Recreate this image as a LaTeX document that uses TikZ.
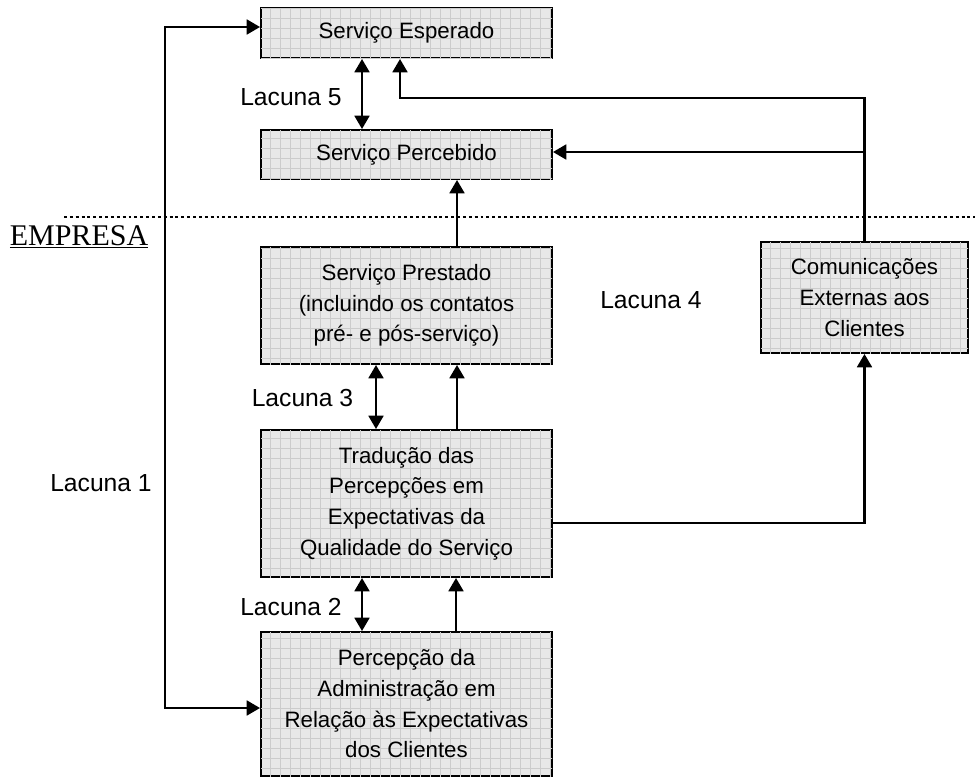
\documentclass[tikz,border=0pt]{standalone}
\usepackage{fontspec}
\setmainfont{Liberation Sans}
\newfontfamily\serifempresa{Liberation Serif}
\usetikzlibrary{arrows.meta,patterns.meta}

\begin{document}
\begin{tikzpicture}[
        x=0.75pt, y=-0.75pt,
        box/.style={draw, line width=1.4pt, fill=gray!18, align=center, inner sep=2pt,
            postaction={pattern={Hatch[angle=0, distance=7.5pt, line width=0.45pt]}, pattern color=gray!40},
            font=\fontsize{16.7}{23}\selectfont},
        gap/.style={font=\fontsize{18.5}{22}\selectfont},
        arr/.style={line width=2.1pt, -{Triangle[length=10pt, width=11pt]}},
        both/.style={line width=2.1pt, {Triangle[length=10pt, width=11pt]}-{Triangle[length=10pt, width=11pt]}},
        divider/.style={line width=2.2pt, dash pattern=on 2.2pt off 2.2pt}
    ]
        \useasboundingbox (0,0) rectangle (975,778);

        \node[box, minimum width=218.25pt, minimum height=37.5pt] (esperado) at (406.5,33) {Serviço Esperado};
        \node[box, minimum width=218.25pt, minimum height=36.75pt] (percebido) at (406.5,154.5) {Serviço Percebido};
        \node[box, minimum width=218.25pt, minimum height=87.75pt] (prestado) at (406.5,305.5)
            {Serviço Prestado\\(incluindo os contatos\\pré- e pós-serviço)};
        \node[box, minimum width=218.25pt, minimum height=110.25pt] (traducao) at (406.5,503.5)
            {Tradução das\\Percepções em\\Expectativas da\\Qualidade do Serviço};
        \node[box, minimum width=218.25pt, minimum height=108pt] (percepcao) at (406.5,704)
            {Percepção da\\Administração em\\Relação às Expectativas\\dos Clientes};
        \node[box, minimum width=155.25pt, minimum height=83.25pt] (comunic) at (864.5,297.5)
            {Comunicações\\Externas aos\\Clientes};

        % linha da empresa
        \coordinate (dl) at (64,217);
        \coordinate (dr) at (975,217);
        \draw[divider] (dl) -- (dr);
        \node[font=\serifempresa\fontsize{22.5}{26}\selectfont] (empresa) at (79,237) {\underline{EMPRESA}};

        \coordinate (x5) at (362,0);
        \coordinate (x3) at (376,0);
        \coordinate (x2) at (362,0);
        \coordinate (up1) at (457,0);
        \coordinate (up2) at (456,0);
        \coordinate (top) at (400,98);
        \coordinate (jp) at (864,152);
        \coordinate (jt) at (0,523);
        \coordinate (l1) at (165,0);
        \coordinate (ye) at (0,27);
        \coordinate (yp) at (0,708);

        \draw[both] (esperado.south -| x5) -- (percebido.north -| x5);
        \draw[arr] (comunic.north) |- (top) -- (top |- esperado.south);
        \draw[arr] (jp) -- (jp -| percebido.east);
        \draw[arr] (prestado.north -| up1) -- (percebido.south -| up1);
        \draw[both] (prestado.south -| x3) -- (traducao.north -| x3);
        \draw[arr] (traducao.north -| up1) -- (prestado.south -| up1);
        \draw[both] (traducao.south -| x2) -- (percepcao.north -| x2);
        \draw[arr] (percepcao.north -| up2) -- (traducao.south -| up2);
        \draw[arr] (traducao.east |- jt) -| (comunic.south);
        \draw[both] (esperado.west |- ye) -| (l1 |- yp) -- (percepcao.west |- yp);

        \node[gap] (lac5) at (291,97) {Lacuna 5};
        \node[gap] (lac4) at (651,300) {Lacuna 4};
        \node[gap] (lac3) at (302.5,398) {Lacuna 3};
        \node[gap] (lac2) at (291,607) {Lacuna 2};
        \node[gap] (lac1) at (101,483) {Lacuna 1};
    \end{tikzpicture}
\end{document}
